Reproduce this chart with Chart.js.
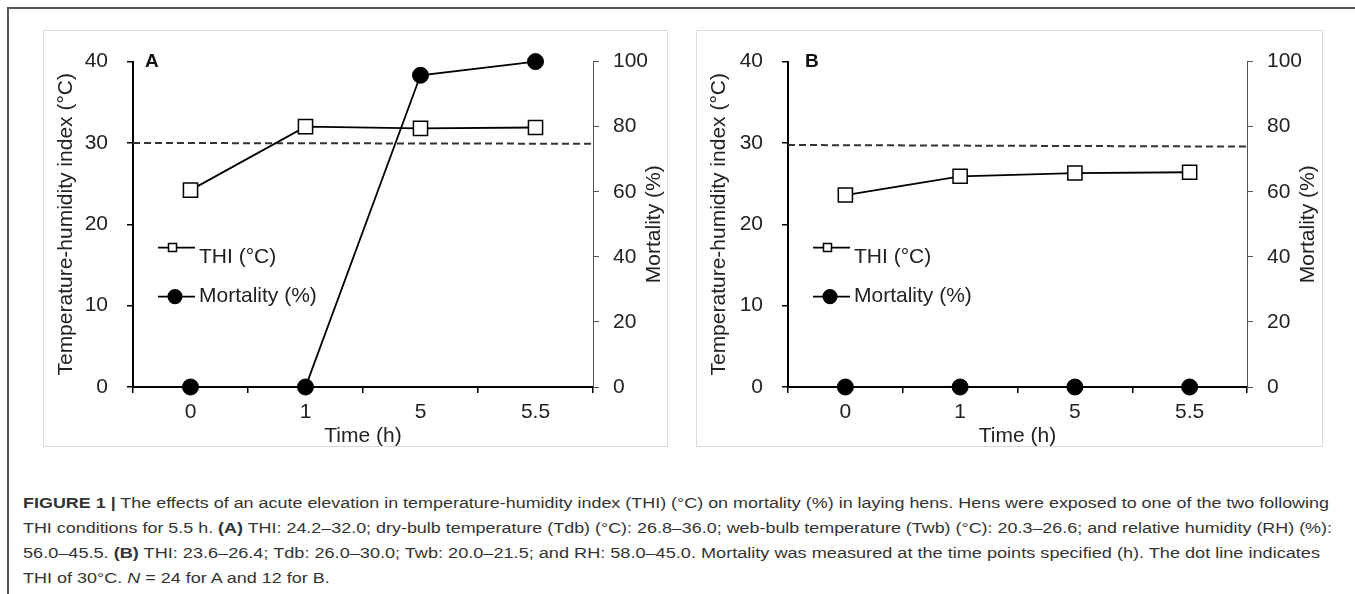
<!DOCTYPE html>
<html>
<head>
<meta charset="utf-8">
<script src="https://cdn.jsdelivr.net/npm/chart.js@4.4.0/dist/chart.umd.min.js"></script>
<style>
  html, body { margin: 0; padding: 0; background: #fff; }
  body { width: 1355px; height: 594px; position: relative; overflow: hidden; font-family: 'Liberation Sans', Arial, sans-serif; }
  #frame { position: absolute; left: 7px; top: 7px; width: 1400px; height: 640px; border-top: 2px solid #555; border-left: 2px solid #555; }
  .panel { position: absolute; top: 30px; height: 417px; }
  .panel .box { position: absolute; left: 0; top: 0; right: 0; bottom: 0; border: 1px solid #dcdcdc; box-sizing: border-box; }
  .panel canvas { position: absolute; left: 0; top: 0; }
  #panelA { left: 43px; width: 625px; }
  #panelB { left: 696px; width: 627px; }
  #caption { position: absolute; left: 23px; top: 490px; font-size: 15.5px; line-height: 25px; color: #333; }
  #caption div { white-space: nowrap; transform-origin: 0 50%; }
  #caption span.l { display: inline-block; }
</style>
</head>
<body>
<div id="frame"></div>

<div class="panel" id="panelA">
  <div class="box"></div>
  <canvas id="chartA" width="625" height="420"></canvas>
</div>
<div class="panel" id="panelB">
  <div class="box"></div>
  <canvas id="chartB" width="627" height="420"></canvas>
</div>

<div id="caption">
  <div><span class="l"><b>FIGURE 1 |</b> The effects of an acute elevation in temperature-humidity index (THI) (°C) on mortality (%) in laying hens. Hens were exposed to one of the two following</span></div>
  <div><span class="l">THI conditions for 5.5 h. <b>(A)</b> THI: 24.2–32.0; dry-bulb temperature (Tdb) (°C): 26.8–36.0; web-bulb temperature (Twb) (°C): 20.3–26.6; and relative humidity (RH) (%):</span></div>
  <div><span class="l">56.0–45.5. <b>(B)</b> THI: 23.6–26.4; Tdb: 26.0–30.0; Twb: 20.0–21.5; and RH: 58.0–45.0. Mortality was measured at the time points specified (h). The dot line indicates</span></div>
  <div><span class="l">THI of 30°C. <i>N</i> = 24 for A and 12 for B.</span></div>
</div>

<script>
// Tidpunkter (h)
const timeLabels = ['0', '1', '5', '5.5'];

// Panel A
const thiA = [24.2, 32.0, 31.8, 31.9];
const mortA = [0, 0, 95.8, 100];
const cutoffA = [30.0, 29.9]; // streckad linje, vänster och höger kant

// Panel B
const thiB = [23.6, 25.9, 26.3, 26.4];
const mortB = [0, 0, 0, 0];
const cutoffB = [29.75, 29.55];

// Axlar
const thiMax = 40, thiStep = 10;
const mortMax = 100, mortStep = 20;

const FONT = "'Liberation Sans', Arial, sans-serif";
const TXT = '#222';
const FS = 21;

// Bokstav, höger axeltitel och legend inuti diagrammet
const panelDecor = {
    id: 'panelDecor',
    afterDraw(chart, args, opts) {
        const { ctx, chartArea } = chart;
        const ds = chart.data.datasets;

        ctx.save();
        ctx.fillStyle = '#111';
        ctx.font = 'bold 19px ' + FONT;
        ctx.textBaseline = 'middle';
        ctx.fillText(opts.letter, chartArea.left + opts.letterDx, chartArea.top);
        ctx.restore();

        // Mortality (%) läses nerifrån och upp
        ctx.save();
        ctx.fillStyle = TXT;
        ctx.font = FS + 'px ' + FONT;
        ctx.textAlign = 'center';
        ctx.textBaseline = 'middle';
        ctx.translate(chartArea.right + opts.rightTitleDx, (chartArea.top + chartArea.bottom) / 2);
        ctx.rotate(-Math.PI / 2);
        ctx.fillText('Mortality (%)', 0, 0);
        ctx.restore();

        // Legend
        const rows = [
            { d: ds[0], dy: 186, textDy: 10, marker: 'rect', size: 4, mx: 39.5 },
            { d: ds[1], dy: 235, textDy: 0, marker: 'circle', size: 6.8, mx: 42 }
        ];
        const x0 = chartArea.left + 25;
        const x1 = chartArea.left + 62;
        rows.forEach(r => {
            const y = chartArea.top + r.dy;
            const mx = chartArea.left + r.mx;
            ctx.save();
            ctx.strokeStyle = r.d.borderColor;
            ctx.lineWidth = 1.8;
            ctx.beginPath();
            ctx.moveTo(x0, y);
            ctx.lineTo(x1, y);
            ctx.stroke();
            ctx.beginPath();
            if (r.marker === 'rect') {
                ctx.rect(mx - r.size, y - r.size, r.size * 2, r.size * 2);
            } else {
                ctx.arc(mx, y, r.size, 0, Math.PI * 2);
            }
            ctx.fillStyle = r.d.pointBackgroundColor;
            ctx.fill();
            ctx.lineWidth = 1.5;
            ctx.strokeStyle = '#000';
            ctx.stroke();
            ctx.fillStyle = TXT;
            ctx.font = FS + 'px ' + FONT;
            ctx.textBaseline = 'middle';
            ctx.fillText(r.d.label, chartArea.left + 66, y + r.textDy);
            ctx.restore();
        });
    }
};

function makeChart(canvasId, letter, thi, mort, cutoff, leftW, rightW, letterDx, rightTitleDx) {
    const ctx = document.getElementById(canvasId).getContext('2d');
    return new Chart(ctx, {
        type: 'line',
        data: {
            labels: timeLabels,
            datasets: [{
                label: 'THI (°C)',
                data: thi,
                yAxisID: 'y',
                borderColor: '#000',
                borderWidth: 1.8,
                pointStyle: 'rect',
                pointRadius: 10,
                pointBorderWidth: 1.5,
                pointBackgroundColor: '#fff',
                pointBorderColor: '#000',
                tension: 0,
                clip: false
            }, {
                label: 'Mortality (%)',
                data: mort,
                yAxisID: 'y1',
                borderColor: '#000',
                borderWidth: 1.8,
                pointStyle: 'circle',
                pointRadius: 8,
                pointBorderWidth: 1,
                pointBackgroundColor: '#000',
                pointBorderColor: '#000',
                tension: 0,
                clip: false
            }, {
                label: 'cutoff',
                data: [{ x: -0.5, y: cutoff[0] }, { x: 3.5, y: cutoff[1] }],
                xAxisID: 'x2',
                yAxisID: 'y',
                borderColor: '#333',
                borderWidth: 2,
                borderDash: [7, 4],
                pointRadius: 0,
                tension: 0
            }]
        },
        options: {
            responsive: false,
            animation: false,
            events: [],
            layout: { padding: { top: 17, left: 0, right: 0, bottom: 0 } },
            scales: {
                x: {
                    type: 'category',
                    offset: true,
                    grid: { offset: true, drawOnChartArea: false, drawTicks: true, tickLength: 6, color: '#000', lineWidth: 1.5 },
                    border: { display: true, color: '#000', width: 2 },
                    ticks: { color: TXT, font: { size: FS, family: FONT }, padding: 7, maxRotation: 0 },
                    title: { display: true, text: 'Time (h)', color: TXT, font: { size: FS, family: FONT }, padding: { top: 0, bottom: 1 } },
                    afterFit: s => { s.height = 63; }
                },
                x2: { type: 'linear', min: -0.5, max: 3.5, display: false },
                y: {
                    position: 'left',
                    min: 0,
                    max: thiMax,
                    grid: { drawOnChartArea: false, drawTicks: true, tickLength: 6, color: '#000', lineWidth: 1.5 },
                    border: { display: true, color: '#000', width: 2 },
                    ticks: { stepSize: thiStep, color: TXT, font: { size: FS, family: FONT }, padding: 19 },
                    title: { display: true, text: 'Temperature-humidity index (°C)', color: TXT, font: { size: FS, family: FONT }, padding: { top: 11, bottom: 0 } },
                    afterFit: s => { s.width = leftW; }
                },
                y1: {
                    position: 'right',
                    min: 0,
                    max: mortMax,
                    grid: { drawOnChartArea: false, drawTicks: true, tickLength: 6, color: '#555', lineWidth: 1 },
                    border: { display: true, color: '#555', width: 1 },
                    ticks: { stepSize: mortStep, color: TXT, font: { size: FS, family: FONT }, padding: 14 },
                    afterFit: s => { s.width = rightW; }
                }
            },
            plugins: {
                legend: { display: false },
                tooltip: { enabled: false },
                panelDecor: { letter: letter, letterDx: letterDx, rightTitleDx: rightTitleDx }
            }
        },
        plugins: [panelDecor]
    });
}

makeChart('chartA', 'A', thiA, mortA, cutoffA, 90, 75, 12, 61);
makeChart('chartB', 'B', thiB, mortB, cutoffB, 92, 76, 17, 61);

// Passa in bildtextens rader till originalets bredd
const lineTargets = [1306, 1309, 1297];
const capLines = document.querySelectorAll('#caption div');
let scales = [];
capLines.forEach((div, i) => {
    const w = div.querySelector('span').getBoundingClientRect().width;
    if (i < lineTargets.length) {
        const s = lineTargets[i] / w;
        scales.push(s);
        div.style.transform = 'scaleX(' + s + ')';
    } else {
        const avg = scales.reduce((a, b) => a + b, 0) / scales.length;
        div.style.transform = 'scaleX(' + avg + ')';
    }
});
</script>
</body>
</html>
